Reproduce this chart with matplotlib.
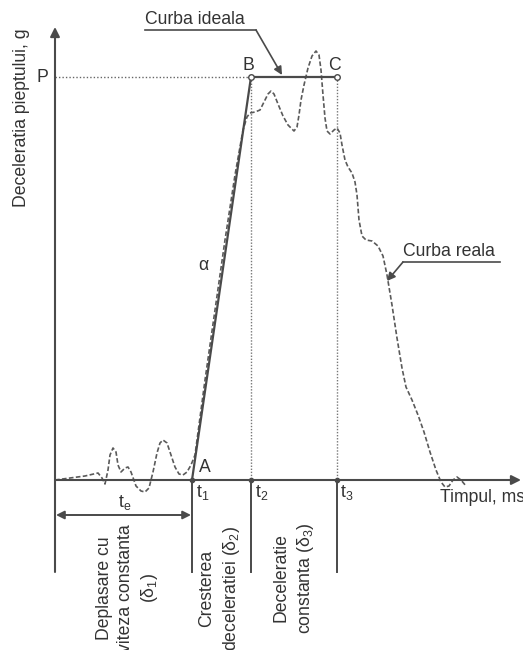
import matplotlib.pyplot as plt

plt.rcParams["font.family"] = ["Liberation Sans", "DejaVu Sans"]
plt.rcParams["mathtext.fontset"] = "custom"
plt.rcParams["mathtext.rm"] = "Liberation Sans"
plt.rcParams["mathtext.it"] = "Liberation Sans:italic"
plt.rcParams["mathtext.default"] = "regular"

LINE = "#4a4a4a"
TEXT = "#333333"
FS = 12.7

# real (measured) chest deceleration curve, time vs deceleration (diagram units)
real_t = [0, 15, 30, 43, 47, 50, 53, 55, 58, 61, 63, 66, 70, 73, 76, 81, 86, 90,
          94, 98, 102, 105, 108, 112, 116, 120, 124, 128, 132, 136, 140, 142, 150,
          160, 170, 180, 188, 192, 195, 200, 205, 209, 213, 216, 219, 223, 228,
          233, 239, 242, 244, 246, 249, 253, 257, 261, 264, 266, 268, 270, 272,
          275, 279, 282, 285, 287, 290, 293, 297, 300, 302, 304, 307, 311, 317,
          323, 328, 332, 337, 342, 347, 351, 357, 363, 369, 375, 381, 386, 390,
          394, 398, 402, 406, 411]
real_g = [0, 2, 4, 7, 2, -4, 10, 25, 32, 28, 15, 8, 12, 13, 8, -6, -11, -12,
          -8, 8, 27, 37, 40, 37, 25, 13, 6, 5, 8, 15, 25, 40, 100,
          170, 240, 305, 350, 363, 367, 368, 370, 378, 386, 389, 386, 376, 364,
          355, 349, 353, 365, 380, 395, 412, 424, 429, 425, 410, 385, 362, 349,
          346, 350, 352, 347, 335, 320, 313, 307, 298, 285, 260, 244, 240, 239,
          234, 224, 205, 175, 142, 112, 93, 80, 65, 48, 28, 10, -2, -7,
          -6, 0, 3, 0, -6]

# ideal curve A -> B -> C
t1, t2, t3 = 137, 196, 282
P = 403
ideal_t = [t1, t2, t3]
ideal_g = [0, P, P]

t_end = 466
g_top = 453
sep_bottom = -92

fig = plt.figure(figsize=(5.23, 6.5), dpi=100)
ax = fig.add_axes([0, 0, 1, 1])
ax.set_xlim(-55, 468)
ax.set_ylim(-170, 480)
ax.axis("off")

# axes with arrows
ax.annotate("", xy=(0, g_top), xytext=(0, sep_bottom),
            arrowprops=dict(arrowstyle="-|>", color=LINE, lw=1.5, mutation_scale=14,
                            shrinkA=0, shrinkB=0))
ax.annotate("", xy=(t_end, 0), xytext=(0, 0),
            arrowprops=dict(arrowstyle="-|>", color=LINE, lw=1.5, mutation_scale=14,
                            shrinkA=0, shrinkB=0))

# phase separators below time axis
for t in [t1, t2, t3]:
    ax.plot([t, t], [0, sep_bottom], color=LINE, lw=1.4)

# dotted guides
ax.plot([0, ideal_t[1]], [P, P], color="#666666", lw=1, ls=(0, (1, 1.5)))
ax.plot([t2, t2], [P, 0], color="#777777", lw=1, ls=(0, (1, 1.2)))
ax.plot([t3, t3], [P, 0], color="#777777", lw=1, ls=(0, (1, 1.2)))

# curves
ax.plot(real_t, real_g, color="#5a5a5a", lw=1.2, ls=(0, (2.8, 1.4)))
ax.plot(ideal_t, ideal_g, color=LINE, lw=1.6)
ax.plot(ideal_t[1:], ideal_g[1:], "o", ms=4, mfc="white", mec=LINE, mew=1)
ax.plot([t1, t2, t3], [0, 0, 0], "o", ms=3, color=LINE)

# labels
ax.text(-33, 362, "Deceleratia pieptului, g", rotation=90, ha="center", va="center",
        fontsize=FS, color=TEXT)
ax.text(-13, 403, "P", ha="center", va="center", fontsize=FS, color=TEXT)
ax.text(193, 414, "B", ha="center", va="center", fontsize=FS, color=TEXT)
ax.text(279, 414, "C", ha="center", va="center", fontsize=FS, color=TEXT)
ax.text(144, 12, "A", ha="left", va="center", fontsize=FS, color=TEXT)
ax.text(148, 215, "α", ha="center", va="center", fontsize=FS, color=TEXT)
ax.text(141, -13, "t$_1$", ha="left", va="center", fontsize=FS, color=TEXT)
ax.text(200, -13, "t$_2$", ha="left", va="center", fontsize=FS, color=TEXT)
ax.text(285, -13, "t$_3$", ha="left", va="center", fontsize=FS, color=TEXT)
ax.text(385, -18, "Timpul, ms", ha="left", va="center", fontsize=FS, color=TEXT)
ax.text(70, -23, "t$_e$", ha="center", va="center", fontsize=FS, color=TEXT)
ax.annotate("", xy=(1, -35), xytext=(t1 - 1, -35),
            arrowprops=dict(arrowstyle="<|-|>", color=LINE, lw=1.4, mutation_scale=12,
                            shrinkA=0, shrinkB=0))

# callouts
ax.text(90, 460, "Curba ideala", ha="left", va="center", fontsize=FS, color=TEXT)
ax.plot([90, 201], [450, 450], color=LINE, lw=1.2)
ax.annotate("", xy=(227, P + 2), xytext=(201, 450),
            arrowprops=dict(arrowstyle="-|>", color=LINE, lw=1.2, mutation_scale=12,
                            shrinkA=0, shrinkB=0))
ax.text(348, 228, "Curba reala", ha="left", va="center", fontsize=FS, color=TEXT)
ax.plot([348, 445], [218, 218], color=LINE, lw=1.2)
ax.annotate("", xy=(332, 199), xytext=(348, 218),
            arrowprops=dict(arrowstyle="-|>", color=LINE, lw=1.2, mutation_scale=12,
                            shrinkA=0, shrinkB=0))

# phase descriptions
ax.text(73, -108, "Deplasare cu\nviteza constanta\n(δ$_1$)", rotation=90, ha="center",
        va="center", multialignment="center", linespacing=1.35, fontsize=FS, color=TEXT)
ax.text(165, -108, "Cresterea\ndeceleratiei (δ$_2$)", rotation=90, ha="center",
        va="center", multialignment="center", linespacing=1.35, fontsize=FS, color=TEXT)
ax.text(239, -98, "Deceleratie\nconstanta (δ$_3$)", rotation=90, ha="center",
        va="center", multialignment="center", linespacing=1.35, fontsize=FS, color=TEXT)

fig.savefig("out.png", dpi=100)
